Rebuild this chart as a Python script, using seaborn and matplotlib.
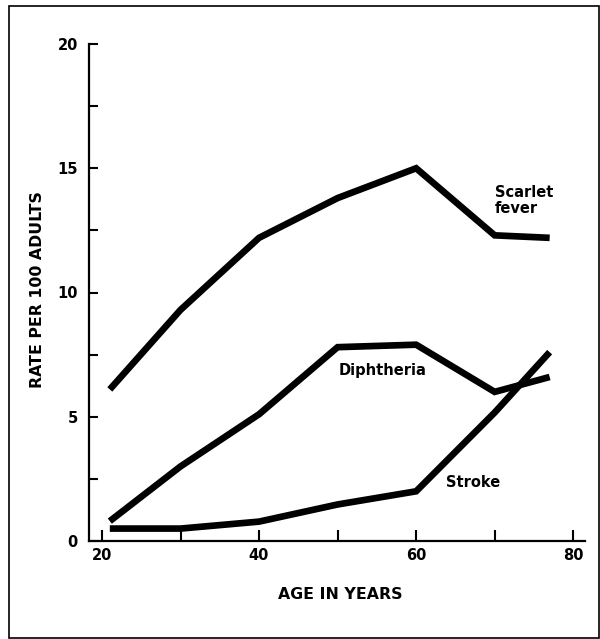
import matplotlib
matplotlib.use("Agg")
import matplotlib.pyplot as plt
import seaborn as sns
import pandas as pd
from matplotlib.patches import Rectangle

# ---- data ----
ages = [21, 30, 40, 50, 60, 70, 77]
scarlet_fever = [6.1, 9.3, 12.2, 13.8, 15.0, 12.3, 12.2]
diphtheria = [0.8, 3.0, 5.1, 7.8, 7.9, 6.0, 6.6]
stroke = [0.5, 0.5, 0.78, 1.47, 2.0, 5.17, 7.6]
series_names = ["Scarlet fever", "Diphtheria", "Stroke"]
x_major_ticks = [20, 40, 60, 80]
x_minor_ticks = [30, 50, 70]
y_major_ticks = [0, 5, 10, 15, 20]
y_minor_ticks = [2.5, 7.5, 12.5, 17.5]

df = pd.DataFrame({
    "age": ages * 3,
    "rate": scarlet_fever + diphtheria + stroke,
    "series": [series_names[0]] * len(ages) + [series_names[1]] * len(ages) + [series_names[2]] * len(ages),
})

sns.set_theme(style="white")
plt.rcParams["font.family"] = ["DejaVu Sans"]
plt.rcParams["font.weight"] = "bold"

FS = 10.5
LFS = 11.3
fig = plt.figure(figsize=(6.0, 6.39), dpi=100)
ax = fig.add_axes([89 / 600, 98 / 639, 496 / 600, 497 / 639])

sns.lineplot(data=df, x="age", y="rate", hue="series",
             palette={n: "black" for n in series_names},
             linewidth=4.8, legend=False, ax=ax, sort=False)
for ln in ax.get_lines():
    ln.set_solid_capstyle("butt")
    ln.set_solid_joinstyle("miter")

ax.set_xlim(18.35, 81.5)
ax.set_ylim(0, 20)
ax.set_xticks(x_major_ticks)
ax.set_xticks(x_minor_ticks, minor=True)
ax.set_yticks(y_major_ticks)
ax.set_yticks(y_minor_ticks, minor=True)
ax.set_xticklabels([str(t) for t in x_major_ticks], fontsize=FS, fontweight="bold")
ax.set_yticklabels([str(t) for t in y_major_ticks], fontsize=FS, fontweight="bold")

ax.tick_params(axis="x", which="both", direction="in", length=8, width=1.5,
               colors="black", pad=5, bottom=True)
ax.tick_params(axis="y", which="both", direction="in", length=6.5, width=1.5,
               colors="black", pad=8, left=True)

for s in ["top", "right"]:
    ax.spines[s].set_visible(False)
for s in ["left", "bottom"]:
    ax.spines[s].set_color("black")
    ax.spines[s].set_linewidth(1.6)

ax.set_xlabel("AGE IN YEARS", fontsize=LFS, fontweight="bold", color="black")
ax.xaxis.set_label_coords(0.506, -0.093)
ax.set_ylabel("RATE PER 100 ADULTS", fontsize=LFS, fontweight="bold", color="black")
ax.yaxis.set_label_coords(-0.088, 0.505)

ax.text(70.0, 13.7, "Scarlet\nfever", fontsize=FS, fontweight="bold",
        ha="left", va="center", color="black", linespacing=1.15)
ax.text(55.7, 6.85, "Diphtheria", fontsize=FS, fontweight="bold",
        ha="center", va="center", color="black")
ax.text(67.2, 2.35, "Stroke", fontsize=FS, fontweight="bold",
        ha="center", va="center", color="black")

# outer frame of the figure
fig.patches.append(Rectangle((9 / 600, 1 / 639), 590 / 600, 632 / 639,
                             transform=fig.transFigure, fill=False,
                             edgecolor="black", linewidth=1.2))

fig.savefig("out.png", dpi=100)
